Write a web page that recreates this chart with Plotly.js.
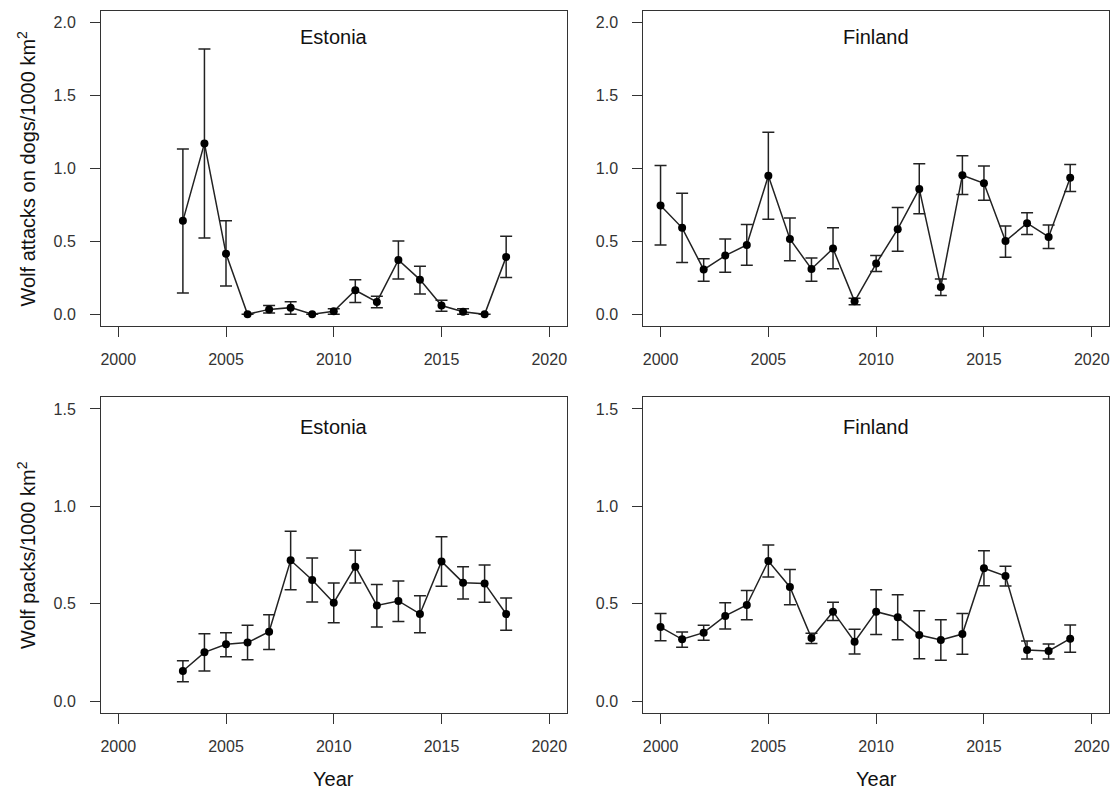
<!DOCTYPE html>
<html>
<head>
<meta charset="utf-8">
<script src="https://cdn.plot.ly/plotly-3.0.1.min.js"></script>
<style>html,body{margin:0;padding:0;background:#fff;} #chart{width:1115px;height:790px;}</style>
</head>
<body>
<div id="chart"></div>
<script>
// ---- Data ----
const estYears = [2003,2004,2005,2006,2007,2008,2009,2010,2011,2012,2013,2014,2015,2016,2017,2018];
const finYears = [2000,2001,2002,2003,2004,2005,2006,2007,2008,2009,2010,2011,2012,2013,2014,2015,2016,2017,2018,2019];

// Wolf attacks on dogs / 1000 km2
const estAttacks      = [0.641,1.172,0.416,0.000,0.034,0.046,0.000,0.021,0.165,0.085,0.373,0.238,0.060,0.018,0.000,0.394];
const estAttacksUpper = [1.133,1.819,0.641,0.000,0.060,0.087,0.000,0.039,0.238,0.124,0.503,0.330,0.096,0.039,0.000,0.535];
const estAttacksLower = [0.146,0.524,0.195,0.000,0.009,0.000,0.000,0.000,0.082,0.046,0.243,0.140,0.021,0.000,0.000,0.252];

const finAttacks      = [0.746,0.593,0.307,0.403,0.476,0.950,0.517,0.311,0.451,0.089,0.348,0.584,0.860,0.188,0.954,0.899,0.503,0.625,0.531,0.936];
const finAttacksUpper = [1.021,0.831,0.382,0.517,0.616,1.249,0.661,0.387,0.593,0.110,0.403,0.732,1.032,0.243,1.087,1.018,0.606,0.696,0.613,1.027];
const finAttacksLower = [0.476,0.355,0.227,0.288,0.336,0.652,0.368,0.227,0.313,0.066,0.293,0.432,0.689,0.130,0.822,0.783,0.391,0.547,0.451,0.842];

// Wolf packs / 1000 km2
const estPacks      = [0.154,0.250,0.291,0.300,0.356,0.723,0.622,0.505,0.690,0.491,0.514,0.447,0.717,0.608,0.604,0.447];
const estPacksUpper = [0.207,0.346,0.351,0.389,0.443,0.872,0.735,0.606,0.774,0.599,0.616,0.541,0.844,0.690,0.699,0.529];
const estPacksLower = [0.099,0.154,0.228,0.212,0.264,0.572,0.509,0.402,0.606,0.380,0.409,0.351,0.589,0.524,0.507,0.363];

const finPacks      = [0.380,0.317,0.351,0.437,0.493,0.719,0.586,0.324,0.459,0.305,0.459,0.430,0.339,0.313,0.344,0.682,0.642,0.262,0.257,0.320];
const finPacksUpper = [0.450,0.354,0.389,0.505,0.568,0.801,0.676,0.348,0.507,0.368,0.572,0.546,0.464,0.418,0.450,0.772,0.692,0.308,0.293,0.390];
const finPacksLower = [0.310,0.276,0.312,0.370,0.418,0.637,0.495,0.295,0.413,0.241,0.342,0.315,0.217,0.209,0.240,0.592,0.591,0.216,0.216,0.250];

const xTicks = [2000,2005,2010,2015,2020];
const attackTicks = [0, 0.5, 1.0, 1.5, 2.0];
const packTicks = [0, 0.5, 1.0, 1.5];
const tickText = v => v.toFixed(1);

const panelTitles = ["Estonia","Finland","Estonia","Finland"];
const yTitleAttacks = "Wolf attacks on dogs/1000 km<sup>2</sup>";
const yTitlePacks = "Wolf packs/1000 km<sup>2</sup>";
const xTitle = "Year";

// ---- Build ----
const INK = '#222';
const FONT = 'Liberation Sans, Arial, sans-serif';

function series(x, y, up, lo, xa, ya) {
  return {
    x: x, y: y, xaxis: xa, yaxis: ya, type: 'scatter', mode: 'lines+markers',
    line: {color: INK, width: 1.5},
    marker: {color: '#000', size: 8},
    error_y: {
      type: 'data', symmetric: false,
      array: up.map((u, i) => u - y[i]),
      arrayminus: lo.map((l, i) => y[i] - l),
      color: INK, thickness: 1.5, width: 6
    },
    hoverinfo: 'skip', showlegend: false, cliponaxis: false
  };
}

const data = [
  series(estYears, estAttacks, estAttacksUpper, estAttacksLower, 'x', 'y'),
  series(finYears, finAttacks, finAttacksUpper, finAttacksLower, 'x2', 'y2'),
  series(estYears, estPacks, estPacksUpper, estPacksLower, 'x3', 'y3'),
  series(finYears, finPacks, finPacksUpper, finPacksLower, 'x4', 'y4')
];

const W = 1115, H = 790;
const colL = [101/W, 566.5/W], colR = [643.3/W, 1109/W];
const rowT = [1 - 326/H, 1 - 11/H], rowB = [1 - 712.7/H, 1 - 397.3/H];

const tickFont = {family: FONT, size: 16, color: '#333'};
function xax(domain, anchor) {
  return {
    domain: domain, anchor: anchor, range: [1999.2, 2020.8],
    tickvals: xTicks, ticktext: xTicks.map(String),
    showgrid: false, zeroline: false, showline: true, mirror: true,
    linecolor: '#333', linewidth: 1,
    ticks: 'outside', ticklen: 10, tickwidth: 1, tickcolor: '#333',
    ticklabelstandoff: 9,
    tickfont: tickFont, fixedrange: true
  };
}
function yax(domain, anchor, ticks, max) {
  const ext = max * 0.04;
  return {
    domain: domain, anchor: anchor, range: [-ext, max + ext],
    tickvals: ticks, ticktext: ticks.map(tickText),
    showgrid: false, zeroline: false, showline: true, mirror: true,
    linecolor: '#333', linewidth: 1,
    ticks: 'outside', ticklen: 10, tickwidth: 1, tickcolor: '#333',
    ticklabelstandoff: 11,
    tickfont: tickFont, fixedrange: true
  };
}

const annFont = {family: FONT, size: 20, color: '#111'};
const annotations = [];
const centers = [[(colL[0]+colL[1])/2, 1 - 37/H], [(colR[0]+colR[1])/2, 1 - 37/H],
                 [(colL[0]+colL[1])/2, 1 - 427/H], [(colR[0]+colR[1])/2, 1 - 427/H]];
panelTitles.forEach((t, i) => annotations.push({
  text: t, x: centers[i][0], y: centers[i][1], xref: 'paper', yref: 'paper',
  xanchor: 'center', yanchor: 'middle', showarrow: false, font: annFont
}));
annotations.push({text: yTitleAttacks, x: 26/W, y: (rowT[0]+rowT[1])/2, xref: 'paper', yref: 'paper',
  textangle: -90, xanchor: 'center', yanchor: 'middle', showarrow: false, font: annFont});
annotations.push({text: yTitlePacks, x: 26/W, y: (rowB[0]+rowB[1])/2, xref: 'paper', yref: 'paper',
  textangle: -90, xanchor: 'center', yanchor: 'middle', showarrow: false, font: annFont});
annotations.push({text: xTitle, x: centers[0][0], y: 1 - 779/H, xref: 'paper', yref: 'paper',
  xanchor: 'center', yanchor: 'middle', showarrow: false, font: annFont});
annotations.push({text: xTitle, x: centers[1][0], y: 1 - 779/H, xref: 'paper', yref: 'paper',
  xanchor: 'center', yanchor: 'middle', showarrow: false, font: annFont});

const layout = {
  width: W, height: H, margin: {l: 0, r: 0, t: 0, b: 0},
  paper_bgcolor: '#fff', plot_bgcolor: '#fff',
  font: {family: FONT, color: INK},
  xaxis: xax(colL, 'y'), yaxis: yax(rowT, 'x', attackTicks, 2.0),
  xaxis2: xax(colR, 'y2'), yaxis2: yax(rowT, 'x2', attackTicks, 2.0),
  xaxis3: xax(colL, 'y3'), yaxis3: yax(rowB, 'x3', packTicks, 1.5),
  xaxis4: xax(colR, 'y4'), yaxis4: yax(rowB, 'x4', packTicks, 1.5),
  annotations: annotations
};

Plotly.newPlot('chart', data, layout, {displayModeBar: false, staticPlot: true});
</script>
</body>
</html>
